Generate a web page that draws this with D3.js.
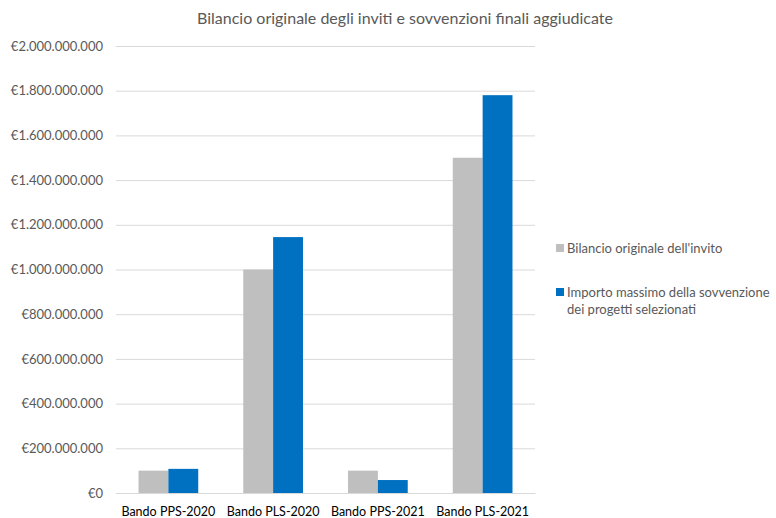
<!DOCTYPE html>
<html><head><meta charset="utf-8">
<script src="https://cdn.jsdelivr.net/npm/d3@7"></script>
<style>body{margin:0;background:#fff}svg{display:block}</style>
</head><body>
<svg id="c" width="776" height="518"></svg>
<script>
const categories = ["Bando PPS-2020", "Bando PLS-2020", "Bando PPS-2021", "Bando PLS-2021"];
const seriesNames = ["Bilancio originale dell'invito", "Importo massimo della sovvenzione dei progetti selezionati"];
const budgetOriginal = [100000000, 1000000000, 100000000, 1500000000];
const maxGrant = [108000000, 1145000000, 58000000, 1780000000];
const yTicks = [0, 200000000, 400000000, 600000000, 800000000, 1000000000, 1200000000, 1400000000, 1600000000, 1800000000, 2000000000];
const colors = ["#BFBFBF", "#0070C0"];
const title = "Bilancio originale degli inviti e sovvenzioni finali aggiudicate";

(function(){
const svg = d3.select("#c");
const font = "Lato, 'Open Sans', sans-serif";
const mL = 116, mR = 535, mT = 46, mB = 493;

const x = d3.scaleBand().domain(categories).range([mL, mR]).paddingInner(0.43).paddingOuter(0.215);
const xs = d3.scaleBand().domain([0, 1]).range([0, x.bandwidth()]);
const y = d3.scaleLinear().domain([0, 2000000000]).range([mB, mT]);

const fmt = v => "€" + d3.format(",")(v).replace(/,/g, ".");

const yAxis = d3.axisLeft(y).tickValues(yTicks).tickSize(-(mR - mL)).tickFormat(fmt).tickPadding(13);
const gy = svg.append("g").attr("transform", `translate(${mL},0)`).call(yAxis);
gy.select(".domain").remove();
gy.selectAll(".tick line").attr("stroke", "#D9D9D9").attr("stroke-width", 1);
gy.selectAll(".tick text").attr("fill", "#595959").style("font-family", font).style("font-size", "13px");

const data = [budgetOriginal, maxGrant];
data.forEach((vals, s) => {
  svg.append("g").selectAll("rect").data(vals).join("rect")
    .attr("x", (d, i) => x(categories[i]) + xs(s))
    .attr("y", d => y(d))
    .attr("width", xs.bandwidth())
    .attr("height", d => y(0) - y(d))
    .attr("fill", colors[s]);
});

const xAxis = d3.axisBottom(x).tickSize(0).tickPadding(14);
const gx = svg.append("g").attr("transform", `translate(0,${mB})`).call(xAxis);
gx.select(".domain").attr("stroke", "#D9D9D9");
gx.selectAll(".tick text").attr("fill", "#000").style("font-family", font).style("font-size", "12.5px");

svg.append("text").attr("x", 405).attr("y", 24).attr("text-anchor", "middle")
  .attr("fill", "#595959").style("font-family", font).style("font-size", "16px").text(title);

const lg = svg.append("g").style("font-family", font).style("font-size", "13px");
const legendItems = [
  {lines: [seriesNames[0]], y: 248},
  {lines: ["Importo massimo della sovvenzione", "dei progetti selezionati"], y: 292}
];
legendItems.forEach((it, i) => {
  lg.append("rect").attr("x", 556).attr("y", it.y - 4).attr("width", 8).attr("height", 8).attr("fill", colors[i]);
  it.lines.forEach((ln, j) => {
    lg.append("text").attr("x", 567).attr("y", it.y + 5 + j * 17).attr("fill", "#595959").text(ln);
  });
});
})();
</script>
</body></html>
